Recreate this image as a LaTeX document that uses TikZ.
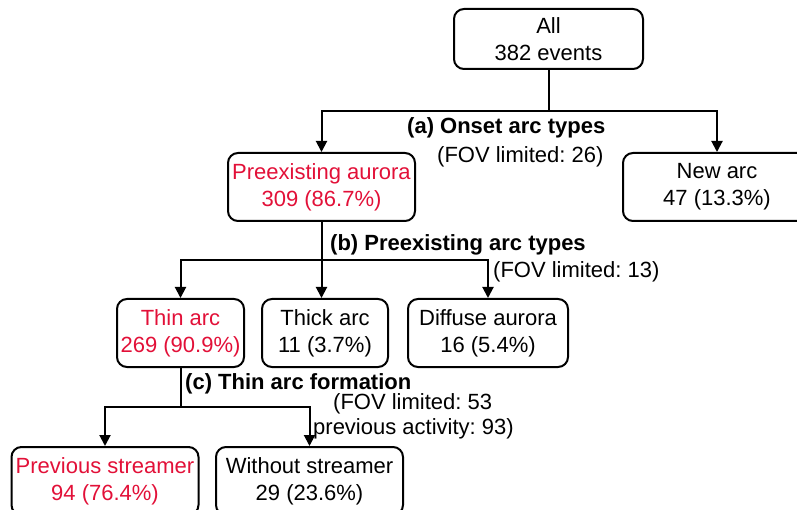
\documentclass[tikz,border=0pt]{standalone}
\usepackage{fontspec}
\setmainfont{Liberation Sans}
\usetikzlibrary{arrows.meta}
\definecolor{hl}{RGB}{226,16,56}
\frenchspacing
\begin{document}
\begin{tikzpicture}[x=1pt,y=-1pt,
  font=\fontsize{22}{27}\selectfont,
  box/.style={draw, line width=2pt, rounded corners=10pt, align=center,
    inner sep=0pt, minimum height=68pt},
  hot/.style={text=hl},
  link/.style={line width=2pt},
  arr/.style={link, -{Triangle[width=11pt,length=11pt]}},
  note/.style={anchor=west, inner sep=0pt, align=left}]
\useasboundingbox (0,0) rectangle (797,510);
\clip (0,0) rectangle (797,510);

% tree boxes
\node[box, minimum width=189pt, minimum height=60pt] (all) at (548.5,39) {All\\382 events};
\node[box, hot, minimum width=187pt] (pre) at (321.5,187) {Preexisting aurora\\309 (86.7\%)};
\node[box, minimum width=188pt] (new) at (717,187) {New arc\\47 (13.3\%)};
\node[box, hot, minimum width=127pt] (thin) at (180.5,333) {Thin arc\\269 (90.9\%)};
\node[box, minimum width=126pt] (thick) at (325,333) {Thick arc\\11 (3.7\%)};
\node[box, minimum width=160pt] (diffuse) at (488,333) {Diffuse aurora\\16 (5.4\%)};
\node[box, hot, minimum width=187pt] (prev) at (105,481) {Previous streamer\\94 (76.4\%)};
\node[box, minimum width=187pt] (without) at (309.5,481) {Without streamer\\29 (23.6\%)};

% (a) onset arc types
\draw[link] (all.south) -- ++(0,41) coordinate (ja);
\draw[arr] (ja) -| (pre.north);
\draw[arr] (ja) -| (new.north);
\node[note, font=\fontsize{22}{27}\selectfont\bfseries] (la) at (407,128) {(a) Onset arc types};
\node[note] (fa) at (437,157) {(FOV limited: 26)};

% (b) preexisting arc types
\draw[arr] (pre.south) -- (pre.south |- thick.north);
\coordinate (jb) at (pre.south |- 0,260);
\draw[arr] (jb) -| (thin.north);
\draw[arr] (jb) -| (diffuse.north);
\node[note, font=\fontsize{22}{27}\selectfont\bfseries] (lb) at (330,245) {(b) Preexisting arc types};
\node[note] (fb) at (493,272) {(FOV limited: 13)};

% (c) thin arc formation
\draw[link] (thin.south) -- ++(0,39) coordinate (jc);
\draw[arr] (jc) -| (prev.north);
\draw[arr] (jc) -| (without.north);
\node[note, font=\fontsize{22}{27}\selectfont\bfseries] (lc) at (185,384) {(c) Thin arc formation};
\node[note] (fc1) at (333,404) {(FOV limited: 53};
\node[note] (fc2) at (313,429) {previous activity: 93)};
\end{tikzpicture}
\end{document}
